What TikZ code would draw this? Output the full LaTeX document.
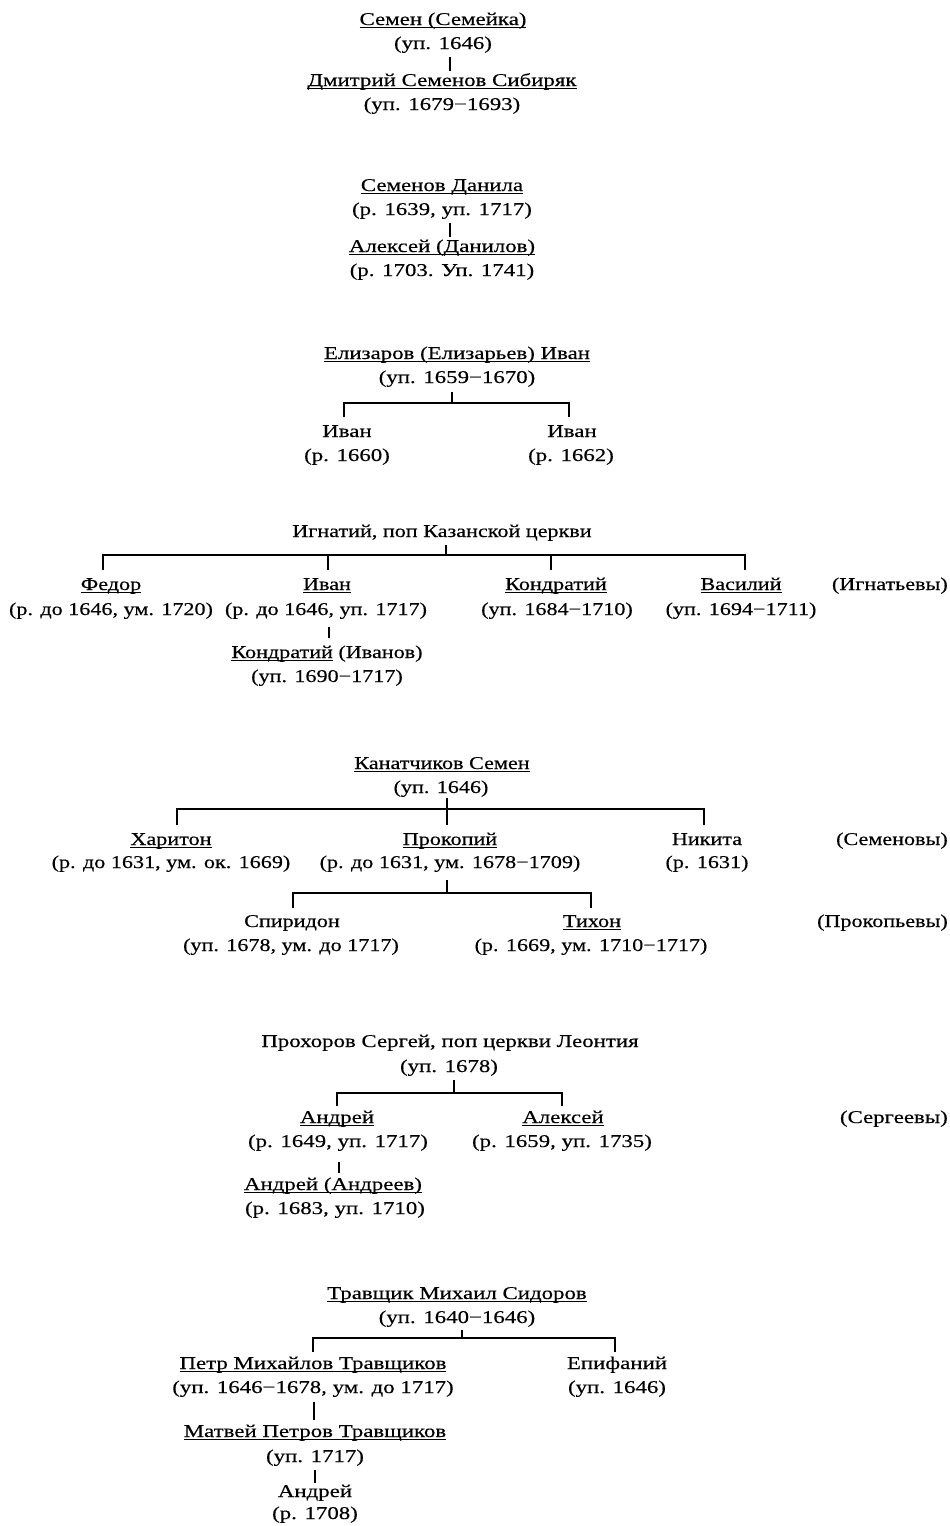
\documentclass[tikz,border=0pt]{standalone}
\usepackage{fontspec}
\setmainfont{Liberation Serif}[FakeStretch=1.27,FakeBold=0.3]
\newfontfamily\narrowfam{Liberation Serif}[FakeStretch=1.23,FakeBold=0.3]
\usetikzlibrary{calc}
\newcommand\ulx[1]{\setbox0\hbox{#1}\rlap{\rule[-2.6pt]{\wd0}{1pt}}\box0\relax}
\tikzset{
  lbl/.style={inner sep=0pt, anchor=base, font=\fontsize{18}{20}\selectfont},
  nlbl/.style={inner sep=0pt, anchor=base, font=\narrowfam\fontsize{18}{20}\selectfont},
  fam/.style={inner sep=0pt, anchor=base east, font=\fontsize{18}{20}\selectfont},
  nfam/.style={inner sep=0pt, anchor=base east, font=\narrowfam\fontsize{18}{20}\selectfont},
  conn/.style={line width=2.8pt}
}
\begin{document}
\begin{tikzpicture}[x=1pt,y=-1pt]
\useasboundingbox[fill=white] (0,0) rectangle (950,1526);
% ---------- section 1
\node[lbl] (p1) at (443,25) {\ulx{Семен (Семейка)}};
\node[lbl] (p1d) at (443,49) {(уп. 1646)};
\node[lbl] (c1) at (442,86) {\ulx{Дмитрий Семенов Сибиряк}};
\node[lbl] (c1d) at (442,110) {(уп. 1679−1693)};
\draw[conn] ([shift={(7,8)}]p1d.base) -- ([shift={(8,-15)}]c1.base);
% ---------- section 2
\node[lbl] (p2) at (442,191) {\ulx{Семенов Данила}};
\node[lbl] (p2d) at (442,215) {(р. 1639, уп. 1717)};
\node[lbl] (c2) at (442,252) {\ulx{Алексей (Данилов)}};
\node[lbl] (c2d) at (442,276) {(р. 1703. Уп. 1741)};
\draw[conn] ([shift={(8,8)}]p2d.base) -- ([shift={(8,-15)}]c2.base);
% ---------- section 3
\node[lbl] (p3) at (457,359) {\ulx{Елизаров (Елизарьев) Иван}};
\node[lbl] (p3d) at (457,383) {(уп. 1659−1670)};
\node[lbl] (c31) at (347,437) {Иван};
\node[lbl] (c31d) at (347,461) {(р. 1660)};
\node[lbl] (c32) at (572,437) {Иван};
\node[lbl] (c32d) at (571,461) {(р. 1662)};
\coordinate (j3) at (452,403);
\draw[conn] ([shift={(-5,9)}]p3d.base) -- (j3);
\draw[conn] ([shift={(-3,-20)}]c31.base) |- (j3) -| ([shift={(-3,-20)}]c32.base);
% ---------- section 4
\node[nlbl] (p4) at (442,537) {Игнатий, поп Казанской церкви};
\node[nlbl] (c41) at (111,590) {\ulx{Федор}};
\node[nlbl] (c41d) at (111,615) {(р. до 1646, ум. 1720)};
\node[nlbl] (c42) at (327,590) {\ulx{Иван}};
\node[nlbl] (c42d) at (326,615) {(р. до 1646, уп. 1717)};
\node[nlbl] (c43) at (556,590) {\ulx{Кондратий}};
\node[nlbl] (c43d) at (557,615) {(уп. 1684−1710)};
\node[nlbl] (c44) at (741,590) {\ulx{Василий}};
\node[nlbl] (c44d) at (741,615) {(уп. 1694−1711)};
\node[nfam] (f4) at (948,590) {(Игнатьевы)};
\node[nlbl] (g41) at (327,658) {\ulx{Кондратий} (Иванов)};
\node[nlbl] (g41d) at (327,682) {(уп. 1690−1717)};
\coordinate (j4) at (446,555);
\draw[conn] ([shift={(4,8)}]p4.base) -- (j4);
\draw[conn] ([shift={(-8,-20)}]c41.base) |- (j4) -| ([shift={(4,-20)}]c44.base);
\draw[conn] ([shift={(1,-20)}]c42.base) -- ++(0,-15);
\draw[conn] ([shift={(-5,-20)}]c43.base) -- ++(0,-15);
\draw[conn] ([shift={(3,12)}]c42d.base) -- ([shift={(2,-20)}]g41.base);
% ---------- section 5
\node[nlbl] (p5) at (442,769) {\ulx{Канатчиков Семен}};
\node[nlbl] (p5d) at (441,793) {(уп. 1646)};
\node[nlbl] (c51) at (171,845) {\ulx{Харитон}};
\node[nlbl] (c51d) at (171,868) {(р. до 1631, ум. ок. 1669)};
\node[nlbl] (c52) at (450,845) {\ulx{Прокопий}};
\node[nlbl] (c52d) at (450,868) {(р. до 1631, ум. 1678−1709)};
\node[nlbl] (c53) at (707,845) {Никита};
\node[nlbl] (c53d) at (707,868) {(р. 1631)};
\node[nfam] (f5) at (948,845) {(Семеновы)};
\node[nlbl] (g51) at (292,927) {Спиридон};
\node[nlbl] (g51d) at (291,951) {(уп. 1678, ум. до 1717)};
\node[nlbl] (g52) at (592,927) {\ulx{Тихон}};
\node[nlbl] (g52d) at (591,951) {(р. 1669, ум. 1710−1717)};
\node[nfam] (f5b) at (948,927) {(Прокопьевы)};
\coordinate (j5) at (447,809);
\draw[conn] ([shift={(6,5)}]p5d.base) -- ([shift={(-3,-20)}]c52.base);
\draw[conn] ([shift={(6,-20)}]c51.base) |- (j5) -| ([shift={(-3,-20)}]c53.base);
\coordinate (j5b) at (447,893);
\draw[conn] ([shift={(-3,12)}]c52d.base) -- (j5b);
\draw[conn] ([shift={(1,-19)}]g51.base) |- (j5b) -| ([shift={(-1,-19)}]g52.base);
% ---------- section 6
\node[lbl] (p6) at (450,1047) {Прохоров Сергей, поп церкви Леонтия};
\node[lbl] (p6d) at (449,1072) {(уп. 1678)};
\node[lbl] (c61) at (337,1123) {\ulx{Андрей}};
\node[lbl] (c61d) at (338,1147) {(р. 1649, уп. 1717)};
\node[lbl] (c62) at (563,1123) {\ulx{Алексей}};
\node[lbl] (c62d) at (562,1147) {(р. 1659, уп. 1735)};
\node[fam] (f6) at (948,1123) {(Сергеевы)};
\node[lbl] (g61) at (333,1190) {\ulx{Андрей (Андреев)}};
\node[lbl] (g61d) at (335,1214) {(р. 1683, уп. 1710)};
\coordinate (j6) at (454,1093);
\draw[conn] ([shift={(5,8)}]p6d.base) -- (j6);
\draw[conn] ([shift={(0,-17)}]c61.base) |- (j6) -| ([shift={(-1,-17)}]c62.base);
\draw[conn] ([shift={(1,15)}]c61d.base) -- ([shift={(6,-17)}]g61.base);
% ---------- section 7
\node[lbl] (p7) at (457,1299) {\ulx{Травщик Михаил Сидоров}};
\node[lbl] (p7d) at (457,1323) {(уп. 1640−1646)};
\node[lbl] (c71) at (313,1369) {\ulx{Петр Михайлов Травщиков}};
\node[lbl] (c71d) at (313,1393) {(уп. 1646−1678, ум. до 1717)};
\node[lbl] (c72) at (617,1369) {Епифаний};
\node[lbl] (c72d) at (617,1393) {(уп. 1646)};
\node[lbl] (g71) at (315,1437) {\ulx{Матвей Петров Травщиков}};
\node[lbl] (g71d) at (315,1462) {(уп. 1717)};
\node[lbl] (h71) at (315,1497) {Андрей};
\node[lbl] (h71d) at (315,1519) {(р. 1708)};
\coordinate (j7) at (462,1338);
\draw[conn] ([shift={(5,7)}]p7d.base) -- (j7);
\draw[conn] ([shift={(0,-17)}]c71.base) |- (j7) -| ([shift={(-2,-17)}]c72.base);
\draw[conn] ([shift={(1,9)}]c71d.base) -- ([shift={(-1,-17)}]g71.base);
\draw[conn] ([shift={(0,8)}]g71d.base) -- ([shift={(0,-14)}]h71.base);
\end{tikzpicture}
\end{document}
